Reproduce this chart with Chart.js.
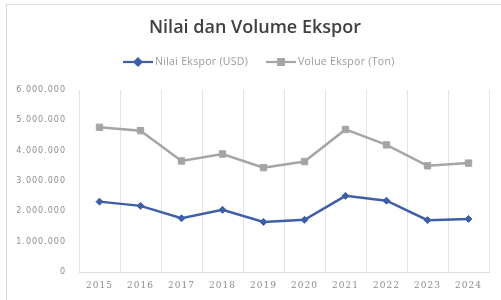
<!DOCTYPE html>
<html>
<head>
<meta charset="utf-8">
<script src="https://cdn.jsdelivr.net/npm/chart.js@4/dist/chart.umd.min.js"></script>
<style>
  html,body{margin:0;padding:0;background:#fff;}
  #wrap{position:relative;width:501px;height:300px;overflow:hidden;}
  #frame{position:absolute;left:6px;top:4px;width:520px;height:320px;border:1px solid #d9d9d9;box-sizing:border-box;}
  canvas{position:absolute;left:0;top:0;}
</style>
</head>
<body>
<div id="wrap">
  <div id="frame"></div>
  <canvas id="c" width="501" height="300"></canvas>
</div>
<script>
const titleText = "Nilai dan Volume Ekspor";
const years = ["2015","2016","2017","2018","2019","2020","2021","2022","2023","2024"];
const nilaiLabel = "Nilai Ekspor (USD)";
const volumeLabel = "Volue Ekspor (Ton)";
const nilaiEkspor = [2320000, 2180000, 1770000, 2050000, 1650000, 1720000, 2510000, 2350000, 1710000, 1750000];
const volumeEkspor = [4770000, 4660000, 3660000, 3890000, 3440000, 3640000, 4700000, 4190000, 3500000, 3590000];
const yTicks = [0, 1000000, 2000000, 3000000, 4000000, 5000000, 6000000];

const BLUE = "#3f5ea8";
const GRAY = "#a5a5a5";

function fmt(v){ return String(v).replace(/\B(?=(\d{3})+(?!\d))/g, "."); }

const headerPlugin = {
  id: "header",
  beforeDraw(chart){ chart.ctx.letterSpacing = "1px"; },
  afterDraw(chart){
    const ctx = chart.ctx;
    ctx.save();
    ctx.letterSpacing = "0px";
    ctx.fillStyle = "#404040";
    ctx.font = "600 18px 'Open Sans'";
    ctx.textAlign = "center";
    ctx.textBaseline = "alphabetic";
    ctx.fillText(titleText, 255, 33);
    // legend
    const items = [
      {x:123, color:BLUE, label:nilaiLabel, style:"rectRot", r:3.5},
      {x:266, color:GRAY, label:volumeLabel, style:"rect", r:4}
    ];
    const ly = 62;
    ctx.font = "10.5px 'Open Sans'";
    ctx.letterSpacing = "0.3px";
    ctx.textAlign = "left";
    ctx.textBaseline = "middle";
    items.forEach(it=>{
      ctx.strokeStyle = it.color;
      ctx.lineWidth = 2.2;
      ctx.beginPath(); ctx.moveTo(it.x, ly); ctx.lineTo(it.x+30, ly); ctx.stroke();
      Chart.helpers.drawPoint(ctx, {pointStyle: it.style, radius: it.r, borderWidth: 1}, it.x+15, ly);
      ctx.fillStyle = it.color;
      ctx.fill();
      ctx.fillStyle = "#9a9a9a";
      ctx.fillText(it.label, it.x+32, ly+0.5);
    });
    ctx.restore();
  }
};

new Chart(document.getElementById("c"), {
  type: "line",
  data: {
    labels: years,
    datasets: [
      {label: nilaiLabel, data: nilaiEkspor, borderColor: BLUE, backgroundColor: BLUE,
       borderWidth: 2.5, pointStyle: "rectRot", pointRadius: 3.5, pointBorderWidth: 1, tension: 0},
      {label: volumeLabel, data: volumeEkspor, borderColor: GRAY, backgroundColor: GRAY,
       borderWidth: 2.5, pointStyle: "rect", pointRadius: 4.5, pointBorderWidth: 1, tension: 0}
    ]
  },
  options: {
    responsive: false,
    animation: false,
    devicePixelRatio: 1,
    layout: {padding: {top: 90, right: 12, bottom: 0, left: 0}},
    plugins: {legend: {display: false}, title: {display: false}, tooltip: {enabled: false}},
    scales: {
      x: {
        offset: true,
        grid: {offset: true, color: "#e3e3e3", lineWidth: 1, drawTicks: false},
        border: {color: "#dcdcdc"},
        ticks: {color: "#8c8c8c", font: {size: 9, family: "'DejaVu Serif'"}, padding: 8, maxRotation: 0},
        afterFit(s){ s.height = 28; }
      },
      y: {
        min: 0, max: 6000000,
        afterBuildTicks(s){ s.ticks = yTicks.map(v=>({value:v})); },
        grid: {display: false, drawTicks: false},
        border: {display: false},
        ticks: {color: "#8c8c8c", font: {size: 8, family: "'DejaVu Sans'"}, padding: 13, callback: v => fmt(v)},
        afterFit(s){ s.width = 79; }
      }
    }
  },
  plugins: [headerPlugin]
});
</script>
</body>
</html>
